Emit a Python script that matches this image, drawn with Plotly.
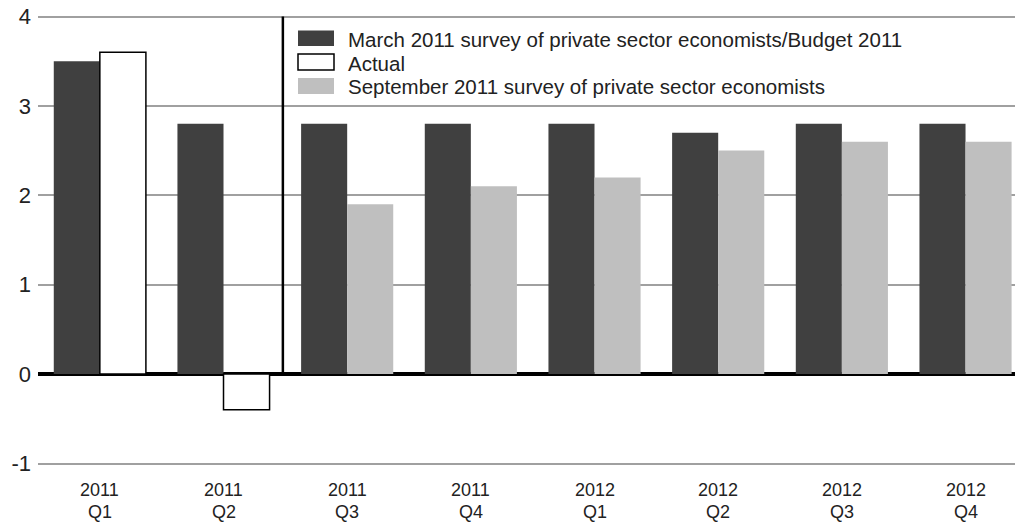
import plotly.graph_objects as go

# Quarterly real GDP growth, per cent (annualized)
years = ["2011", "2011", "2011", "2011", "2012", "2012", "2012", "2012"]
qtrs = ["Q1", "Q2", "Q3", "Q4", "Q1", "Q2", "Q3", "Q4"]
march_budget = [3.5, 2.8, 2.8, 2.8, 2.8, 2.7, 2.8, 2.8]
actual = [3.6, -0.4, None, None, None, None, None, None]
september = [None, None, 1.9, 2.1, 2.2, 2.5, 2.6, 2.6]
y_ticks = [-1, 0, 1, 2, 3, 4]
y_tick_text = ["-1", "0", "1", "2", "3", "4"]

names = ["March 2011 survey of private sector economists/Budget 2011",
         "Actual",
         "September 2011 survey of private sector economists"]

DARK = "#404040"
LIGHT = "#bfbfbf"
FONT = "Liberation Sans, Arial, Helvetica, sans-serif"

x_idx = list(range(len(qtrs)))

fig = go.Figure()
fig.add_trace(go.Bar(x=x_idx, y=march_budget, name=names[0], offsetgroup="a",
                     marker=dict(color=DARK, line=dict(width=0))))
fig.add_trace(go.Bar(x=x_idx, y=actual, name=names[1], offsetgroup="b",
                     marker=dict(color="white", line=dict(color="black", width=1.5))))
fig.add_trace(go.Bar(x=x_idx, y=september, name=names[2], offsetgroup="b",
                     marker=dict(color=LIGHT, line=dict(width=0))))

# Divider between actual quarters and forecast quarters
fig.add_shape(type="line", xref="x", yref="y", x0=1.48, x1=1.48, y0=0, y1=4,
              line=dict(color="black", width=2.5))

W, H = 1015, 523
ML, MR, MT, MB = 38, 0, 14, 57
pw, ph = W - ML - MR, H - MT - MB


def px(x):
    return (x - ML) / pw


def py(y):
    return (H - MB - y) / ph


# Category labels: year on the first row, quarter on the second
for i, (yr, q) in enumerate(zip(years, qtrs)):
    for txt, yc, anchor in ((yr, 501, "bottom"), (q, 501, "top")):
        fig.add_annotation(xref="x", yref="paper", x=i, y=py(yc), text=txt,
                           showarrow=False, xanchor="center", yanchor=anchor,
                           borderpad=0,
                           font=dict(family=FONT, size=18, color="#222"))

# Legend drawn as swatches + text inside the plot
legend_rows = [(names[0], DARK, None, 30.5, 46, 40),
               (names[1], "white", "black", 54, 70, 63),
               (names[2], LIGHT, None, 78, 94, 87)]
for label, fill, edge, top, bot, yc in legend_rows:
    fig.add_shape(type="rect", xref="paper", yref="paper",
                  x0=px(298), x1=px(334), y0=py(bot), y1=py(top),
                  fillcolor=fill,
                  line=dict(color=edge or fill, width=1.5 if edge else 0))
    fig.add_annotation(xref="paper", yref="paper", x=px(346), y=py(yc),
                       text=label, showarrow=False, xanchor="left",
                       yanchor="middle",
                       font=dict(family=FONT, size=20.5, color="#222"))

fig.update_layout(
    width=W, height=H,
    margin=dict(l=ML, r=MR, t=MT, b=MB, pad=0),
    barmode="group", bargap=0.255, bargroupgap=0,
    plot_bgcolor="white", paper_bgcolor="white",
    showlegend=False,
    font=dict(family=FONT, size=18, color="#222"),
    xaxis=dict(range=[-0.5, 7.4], tickmode="array", tickvals=x_idx,
               showticklabels=False, showgrid=False, zeroline=False,
               showline=False, ticks=""),
    yaxis=dict(range=[-1.028, 4.028], tickmode="array", tickvals=y_ticks,
               ticktext=y_tick_text,
               showgrid=True, gridcolor="#a0a0a0", gridwidth=1.5,
               zeroline=True, zerolinecolor="black", zerolinewidth=3.5,
               showline=False, ticks="", ticklabelstandoff=6,
               tickfont=dict(size=22)),
)

fig.write_html("out.html")
